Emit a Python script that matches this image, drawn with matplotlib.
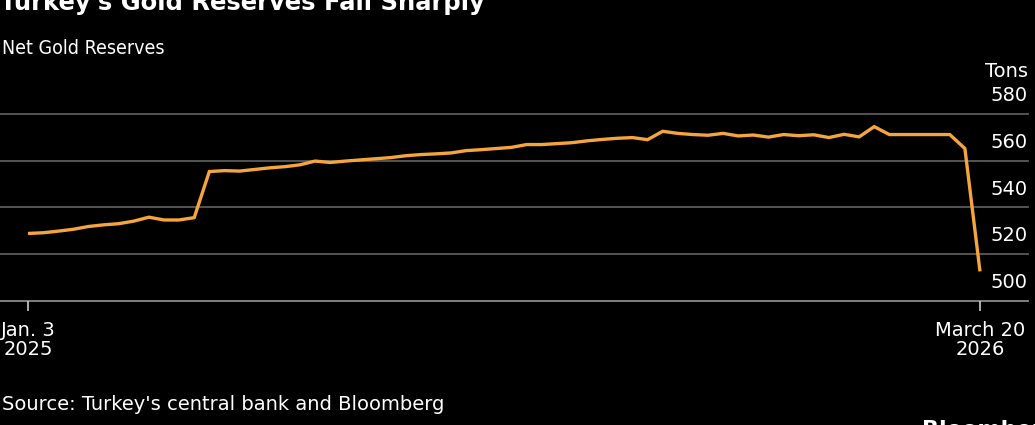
import matplotlib
matplotlib.use("Agg")
import matplotlib.pyplot as plt
import matplotlib.dates as mdates
import matplotlib.transforms as mtransforms
import pandas as pd

# ---- data ----
start_date = "2025-01-03"
n_weeks = 64
reserves_tons = [
    528.8, 529.1, 529.8, 530.6, 531.8, 532.5, 533.0, 534.1, 535.8, 534.6,
    534.6, 535.6, 555.4, 555.8, 555.6, 556.3, 557.0, 557.5, 558.3, 559.9,
    559.3, 559.9, 560.4, 560.9, 561.4, 562.2, 562.7, 563.0, 563.4, 564.4,
    564.8, 565.3, 565.8, 567.0, 567.0, 567.4, 567.8, 568.6, 569.2, 569.7,
    570.0, 569.1, 572.7, 571.8, 571.3, 571.0, 571.8, 570.7, 571.1, 570.2,
    571.3, 570.8, 571.2, 570.0, 571.4, 570.3, 574.7, 571.3, 571.3, 571.3,
    571.3, 571.3, 565.3, 512.5,
]
dates = pd.date_range(start_date, periods=n_weeks, freq="7D")
y_ticks = [500, 520, 540, 560, 580]
x_tick_labels = ["Jan. 3\n2025", "March 20\n2026"]

title = "Turkey's Gold Reserves Fall Sharply"
subtitle = "Net Gold Reserves"
unit = "Tons"
source = "Source: Turkey's central bank and Bloomberg"

# ---- style ----
W, H = 1035, 425
DPI = 100
BG = "black"
LINE = "#F5A53C"
GRID = "#5a5a5a"
TXT = "white"
FONT = "DejaVu Sans"
plt.rcParams["font.family"] = [FONT]

fig = plt.figure(figsize=(W / DPI, H / DPI), dpi=DPI, facecolor=BG)

ax_left, ax_right = 0 / W, 1028 / W
ax_bottom, ax_top = 1 - 300.5 / H, 1 - 114.3 / H
ax = fig.add_axes([ax_left, ax_bottom, ax_right - ax_left, ax_top - ax_bottom])
ax.set_facecolor(BG)

x = mdates.date2num(dates)
ax.plot(dates, reserves_tons, color=LINE, lw=2.4, solid_joinstyle="miter",
        solid_capstyle="butt", zorder=3, clip_on=False)

px_first, px_last = 28, 980
per_px = (x[-1] - x[0]) / (px_last - px_first)
ax.set_xlim(x[0] - (px_first - 0) * per_px, x[-1] + (1028 - px_last) * per_px)
ax.set_ylim(500, 580)

for s in ax.spines.values():
    s.set_visible(False)

for v in y_ticks:
    ax.axhline(v, color=GRID if v != 500 else "#8a8a8a", lw=1.3, zorder=1, clip_on=False)

ax.set_yticks([])
ax.set_xticks([dates[0], dates[-1]])
ax.set_xticklabels(x_tick_labels, color=TXT, fontsize=14, linespacing=1.0)
ax.tick_params(axis="x", length=7, width=1.2, color="#cccccc", pad=8)

trans = mtransforms.blended_transform_factory(ax.transAxes, ax.transData)
for v in y_ticks:
    ax.text(1.0, v + 3.8, f"{v}", transform=trans, ha="right", va="bottom",
            color=TXT, fontsize=14)
ax.text(1.0, 580 + 14.3, unit, transform=trans, ha="right", va="bottom",
        color=TXT, fontsize=14)

fig.text(0 / W, 1 - 10 / H, title, color=TXT, fontsize=17.5, fontweight="bold",
         ha="left", va="baseline")
fig.text(2 / W, 1 - 54 / H, subtitle, color=TXT, fontsize=14, fontstretch="condensed",
         ha="left", va="baseline")
fig.text(2 / W, 1 - 410 / H, source, color=TXT, fontsize=14, ha="left", va="baseline")
fig.text(922 / W, 1 - 420 / H, "Bloomberg", color=TXT, fontsize=16, fontweight="bold",
         ha="left", va="top")

fig.savefig("out.png", dpi=DPI, facecolor=BG)
